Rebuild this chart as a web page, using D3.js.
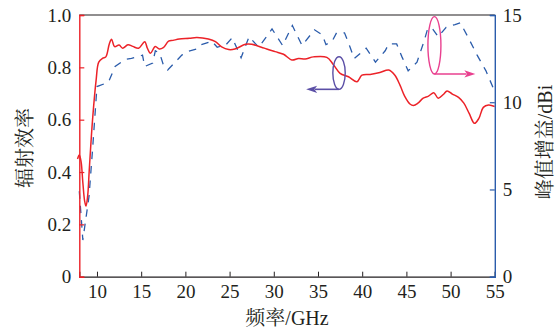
<!DOCTYPE html>
<html>
<head>
<meta charset="utf-8">
<script src="https://cdn.jsdelivr.net/npm/d3@7/dist/d3.min.js"></script>
<style>
  html, body { margin: 0; padding: 0; background: #fff; }
  svg { display: block; }
  text { font-family: "Liberation Serif", "Times New Roman", "Noto Serif CJK SC", "Noto Sans CJK SC", serif; fill: #231f20; }
</style>
</head>
<body>
<svg id="chart" width="558" height="333"></svg>
<script>
// Radiation efficiency (left axis) vs frequency, GHz
const effFreq = [7.8, 8.0, 8.2, 8.4, 8.6, 8.76, 8.95, 9.13, 9.5, 9.9, 10.2, 10.65, 11.0, 11.4, 11.65, 12.0,
  12.5, 12.9, 13.5, 14.05, 14.7, 15.4, 15.7, 16.05, 16.6, 17.05, 17.5, 18.1, 18.6, 19.3, 20.45, 21.3,
  22.6, 23.4, 24.1, 24.9, 25.6, 26.8, 27.5, 28.6, 29.2, 30.15, 31.1, 32.05, 32.8, 33.55, 34.5, 36.0,
  36.75, 37.5, 38.45, 39.4, 39.97, 40.9, 42.0, 43.0, 43.7, 44.3, 44.8, 45.4, 45.8, 46.3, 46.9, 47.5,
  48.1, 48.6, 49.2, 49.6, 50.2, 50.9, 51.5, 52.1, 52.7, 53.2, 53.7, 54.3, 55.0];
const effValue = [0.45, 0.465, 0.44, 0.36, 0.29, 0.27, 0.31, 0.41, 0.60, 0.75, 0.82, 0.835, 0.84, 0.89, 0.907, 0.879,
  0.885, 0.873, 0.886, 0.88, 0.873, 0.898, 0.873, 0.854, 0.88, 0.87, 0.875, 0.90, 0.903, 0.908, 0.911, 0.914,
  0.908, 0.898, 0.878, 0.868, 0.87, 0.888, 0.888, 0.877, 0.87, 0.86, 0.85, 0.828, 0.834, 0.832, 0.84, 0.838,
  0.81, 0.777, 0.764, 0.745, 0.77, 0.773, 0.78, 0.79, 0.77, 0.73, 0.69, 0.66, 0.654, 0.663, 0.682, 0.69,
  0.703, 0.682, 0.697, 0.71, 0.698, 0.685, 0.663, 0.624, 0.586, 0.605, 0.647, 0.656, 0.65];

// Peak gain (right axis) vs frequency, GHz
const gainFreq = [8.0, 8.4, 9.1, 9.5, 10.0, 10.8, 11.3, 12.05, 13.2, 13.9, 14.9, 15.15, 15.4, 16.3, 16.6,
  17.1, 17.5, 18.0, 19.6, 20.2, 21.3, 21.8, 23.0, 23.6, 24.6, 25.3, 26.3, 27.2, 28.3, 29.8, 31.0, 32.1,
  33.2, 34.6, 35.5, 35.9, 36.6, 37.1, 38.0, 38.6, 39.1, 40.45, 41.5, 42.6, 43.0, 43.9, 44.5, 45.2, 46.2,
  47.0, 47.4, 47.9, 48.6, 49.5, 50.5, 51.1, 52.0, 53.0, 54.0, 55.0];
const gainValue = [4.9, 2.1, 4.6, 7.3, 10.9, 11.05, 11.15, 12.05, 12.45, 12.52, 12.65, 12.7, 12.05, 12.25, 12.95,
  12.8, 12.15, 11.85, 12.7, 12.9, 13.05, 13.3, 13.5, 13.15, 13.3, 13.7, 12.55, 13.75, 13.15, 14.2, 13.25, 14.4,
  13.25, 14.15, 13.85, 13.3, 13.5, 13.98, 13.98, 13.2, 12.5, 13.1, 12.3, 12.95, 13.34, 13.34, 12.6, 11.8, 12.3,
  13.5, 14.2, 14.25, 13.75, 14.3, 14.45, 14.55, 13.7, 12.7, 11.8, 10.6];

const freqTicks = [10, 15, 20, 25, 30, 35, 40, 45, 50, 55];
const effTicks = [0, 0.2, 0.4, 0.6, 0.8, 1.0];
const effTickLabels = ["0", "0.2", "0.4", "0.6", "0.8", "1.0"];
const gainTicks = [0, 5, 10, 15];

const xLabel = "频率/GHz";
const yLeftLabel = "辐射效率";
const yRightLabel = "峰值增益/dBi";

const RED = "#ec2228";
const BLUE = "#2b5cab";
const PURPLE = "#5b4fa6";
const PINK = "#e9408f";

const plotLeft = 79.3, plotRight = 494.8, plotTop = 15, plotBottom = 276.7;
const svg = d3.select("#chart");

const x = d3.scaleLinear().domain([8, 55]).range([plotLeft, plotRight]);
const yL = d3.scaleLinear().domain([0, 1]).range([plotBottom, plotTop]);
const yR = d3.scaleLinear().domain([0, 15]).range([plotBottom, plotTop]);

// clip so the curves stay inside the frame (small overhang at left allowed)
svg.append("clipPath").attr("id", "plot-clip")
  .append("rect").attr("x", plotLeft - 3).attr("y", plotTop)
  .attr("width", plotRight - plotLeft + 3).attr("height", plotBottom - plotTop);

const plot = svg.append("g").attr("clip-path", "url(#plot-clip)");

// gain curve (dashed, blue)
const gainData = gainFreq.map((f, i) => [f, gainValue[i]]);
plot.append("path")
  .datum(gainData)
  .attr("fill", "none")
  .attr("stroke", BLUE)
  .attr("stroke-width", 1.3)
  .attr("stroke-dasharray", "7.5,7")
  .attr("d", d3.line().x(d => x(d[0])).y(d => yR(d[1])));

// efficiency curve (solid, red)
const effData = effFreq.map((f, i) => [f, effValue[i]]);
plot.append("path")
  .datum(effData)
  .attr("fill", "none")
  .attr("stroke", RED)
  .attr("stroke-width", 1.5)
  .attr("d", d3.line().curve(d3.curveCatmullRom.alpha(0.5)).x(d => x(d[0])).y(d => yL(d[1])));

// top border in black
svg.append("line").attr("x1", plotLeft).attr("x2", plotRight).attr("y1", plotTop).attr("y2", plotTop)
  .attr("stroke", "#231f20").attr("stroke-width", 1.2);

const xAxis = d3.axisBottom(x).tickValues(freqTicks).tickSize(-5).tickPadding(10).tickFormat(d3.format("d"));
const gx = svg.append("g").attr("transform", `translate(0,${plotBottom})`).call(xAxis);
gx.select(".domain").attr("stroke", "#231f20").attr("stroke-width", 1.2);
gx.selectAll(".tick line").attr("stroke", "#231f20");
gx.selectAll(".tick text").attr("font-size", 19).attr("font-family", "Liberation Serif").attr("fill", "#231f20").attr("dy", "0.62em");

// left axis, red
const yLeftAxis = d3.axisLeft(yL).tickValues(effTicks).tickSize(-5).tickPadding(8)
  .tickFormat((d, i) => effTickLabels[i]);
const gyl = svg.append("g").attr("transform", `translate(${plotLeft},0)`).call(yLeftAxis);
gyl.select(".domain").attr("stroke", RED).attr("stroke-width", 1.4);
gyl.selectAll(".tick line").attr("stroke", RED).attr("stroke-width", 1.2);
gyl.selectAll(".tick text").attr("font-size", 19).attr("font-family", "Liberation Serif").attr("fill", "#231f20");

// right axis, blue
const yRightAxis = d3.axisRight(yR).tickValues(gainTicks).tickSize(-5).tickPadding(8).tickFormat(d3.format("d"));
const gyr = svg.append("g").attr("transform", `translate(${plotRight},0)`).call(yRightAxis);
gyr.select(".domain").attr("stroke", BLUE).attr("stroke-width", 1.4);
gyr.selectAll(".tick line").attr("stroke", BLUE).attr("stroke-width", 1.2);
gyr.selectAll(".tick text").attr("font-size", 19).attr("font-family", "Liberation Serif").attr("fill", "#231f20");

// axis titles
svg.append("text").attr("x", 287).attr("y", 325).attr("text-anchor", "middle")
  .attr("font-size", 20).text(xLabel);
svg.append("text").attr("transform", "translate(32,148) rotate(-90)").attr("text-anchor", "middle")
  .attr("font-size", 20).text(yLeftLabel);
svg.append("text").attr("transform", "translate(552,142) rotate(-90)").attr("text-anchor", "middle")
  .attr("font-size", 20).text(yRightLabel);

// series markers: ellipse around a curve with an arrow pointing to its axis
function marker(cx, cy, rx, ry, arrowY, arrowX, color) {
  svg.append("ellipse").attr("cx", cx).attr("cy", cy).attr("rx", rx).attr("ry", ry)
    .attr("fill", "none").attr("stroke", color).attr("stroke-width", 1.4);
  const dir = arrowX < cx ? -1 : 1;
  const headLen = 11, headHalf = 3.6;
  svg.append("line").attr("x1", cx).attr("x2", arrowX - dir * headLen * 0.8)
    .attr("y1", arrowY).attr("y2", arrowY).attr("stroke", color).attr("stroke-width", 1.6);
  svg.append("path")
    .attr("d", `M${arrowX},${arrowY} L${arrowX - dir * headLen},${arrowY - headHalf} L${arrowX - dir * headLen * 0.75},${arrowY} L${arrowX - dir * headLen},${arrowY + headHalf} Z`)
    .attr("fill", color);
}

// efficiency marker (left)
marker(x(37.38), yL(0.778), 6.2, 16.3, yL(0.716), x(33.66), PURPLE);
// gain marker (right)
marker(x(48.17), yR(13.26), 6.5, 28.7, yR(11.62), x(52.8), PINK);
</script>
</body>
</html>
